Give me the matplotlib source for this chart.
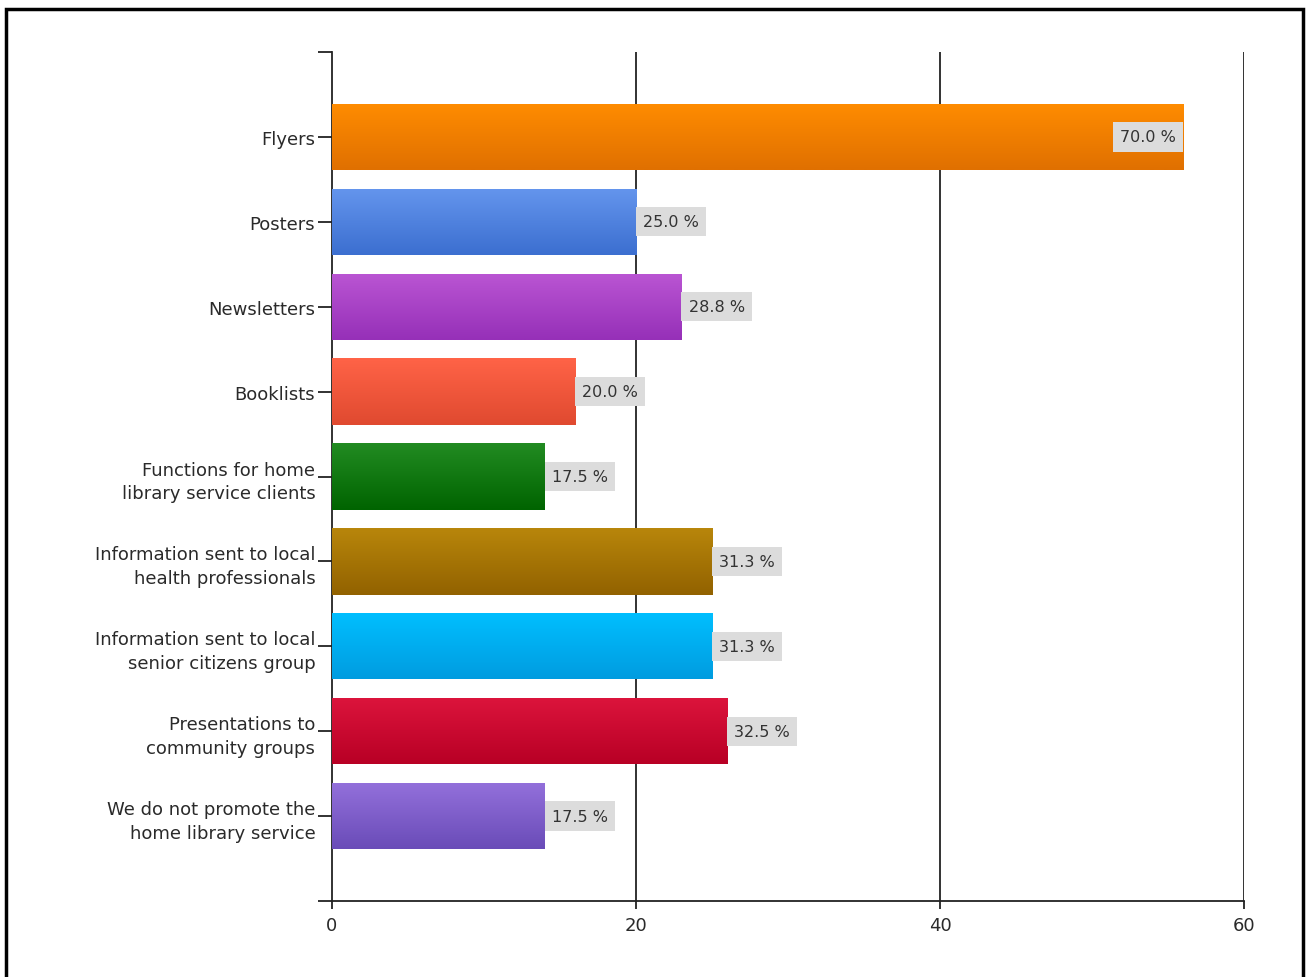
import numpy as np
import matplotlib
matplotlib.use("Agg")
import matplotlib.pyplot as plt
from matplotlib.colors import LinearSegmentedColormap
from matplotlib.patches import Rectangle

plt.rcParams['font.family'] = ['DejaVu Sans']

categories = [
    "Flyers",
    "Posters",
    "Newsletters",
    "Booklists",
    "Functions for home\nlibrary service clients",
    "Information sent to local\nhealth professionals",
    "Information sent to local\nsenior citizens group",
    "Presentations to\ncommunity groups",
    "We do not promote the\nhome library service",
]
counts = [56, 20, 23, 16, 14, 25, 25, 26, 14]
percents = [70.0, 25.0, 28.8, 20.0, 17.5, 31.3, 31.3, 32.5, 17.5]
xticks = [0, 20, 40, 60]

# top / bottom colours of each bar's gradient
top_colors = ["#FF8C00", "#6495ED", "#BA55D3", "#FF6347", "#228B22",
              "#B8860B", "#00BFFF", "#DC143C", "#9370DB"]
bottom_colors = ["#E07000", "#3C6FD0", "#9630B8", "#E04A30", "#006400",
                 "#926200", "#009CE0", "#B80025", "#6A4CB8"]

fig = plt.figure(figsize=(13.07, 9.78), dpi=100)
ax = fig.add_axes([0.254, 0.0777, 0.6978, 0.8681])

pos = np.arange(1, len(categories) + 1)
bars = ax.barh(pos, counts, height=0.78, color="none", zorder=3)

for b, c1, c2 in zip(bars, top_colors, bottom_colors):
    cmap = LinearSegmentedColormap.from_list("g", [c1, c2])
    grad = np.linspace(0, 1, 64).reshape(-1, 1)
    x0, y0 = b.get_x(), b.get_y()
    w, h = b.get_width(), b.get_height()
    im = ax.imshow(grad, cmap=cmap, aspect="auto",
                   extent=(x0, x0 + w, y0 + h, y0), origin="upper",
                   zorder=3, interpolation="bilinear")
    im.set_clip_path(b)

ax.set_xlim(0, 60)
ax.set_ylim(10, 0)
ax.set_xticks(xticks)
ax.set_yticks(pos)
ax.set_yticklabels(categories, linespacing=1.4)
ax.set_yticks([0, 10], minor=True)
ax.set_yticklabels([], minor=True)

for x in xticks[1:]:
    ax.axvline(x, color="#222222", lw=1.3, zorder=1)

for s in ["top", "right"]:
    ax.spines[s].set_visible(False)
for s in ["left", "bottom"]:
    ax.spines[s].set_color("#222222")
    ax.spines[s].set_linewidth(1.3)

ax.tick_params(axis="y", which="both", length=10, width=1.3, color="#222222",
               pad=2, labelsize=13, labelcolor="#2a2a2a")
ax.tick_params(axis="x", length=6, width=1.3, color="#222222",
               pad=5, labelsize=13, labelcolor="#2a2a2a")

for p, c, pct in zip(pos, counts, percents):
    inside = c > 50
    ax.annotate(f"{pct:.1f} %", xy=(c, p),
                xytext=(-5 if inside else 5, 0), textcoords="offset points",
                ha="right" if inside else "left", va="center",
                fontsize=11.5, color="#333333", zorder=5,
                bbox=dict(boxstyle="square,pad=0.45", fc="#DCDCDC", ec="none"))

# outer frame (bottom edge runs off the image)
fig.patches.append(Rectangle((0.0045, -0.05), 0.9925, 1.04, transform=fig.transFigure,
                             fill=False, ec="black", lw=2.5))

fig.savefig("out.png", dpi=100)
